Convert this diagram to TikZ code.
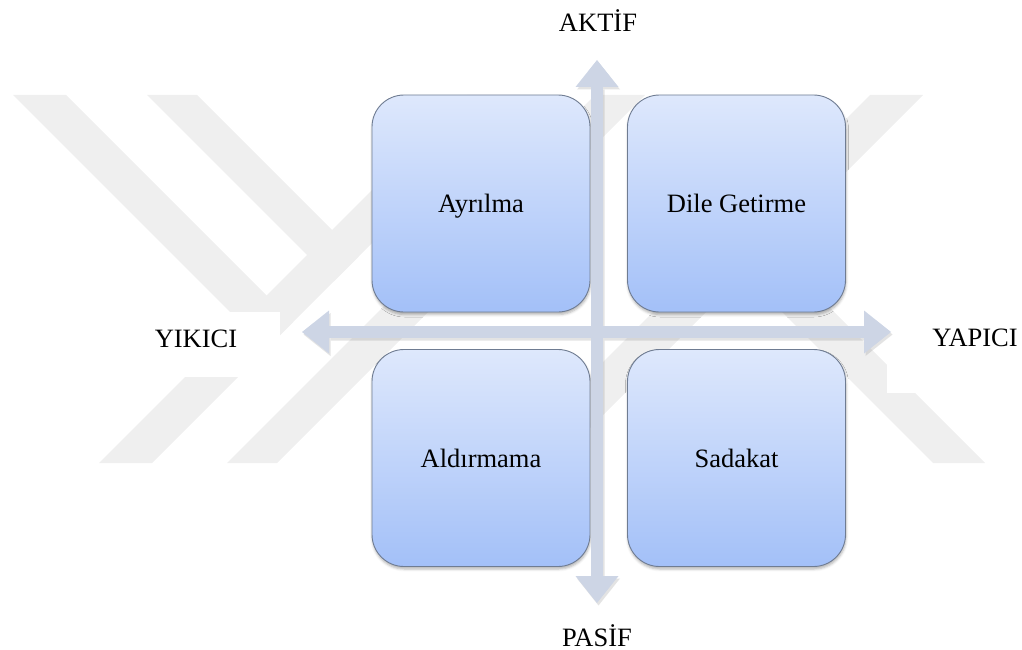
\documentclass[tikz,border=0pt]{standalone}
\usepackage{fontspec}
\setmainfont{Liberation Serif}
\usetikzlibrary{arrows.meta,shadows.blur}
\definecolor{boxtop}{HTML}{DEE8FC}
\definecolor{boxbot}{HTML}{A3C0F8}
\definecolor{boxline}{HTML}{6F7C92}
\definecolor{axisfill}{HTML}{CDD5E5}
\definecolor{wmgray}{HTML}{EFEFEF}
\begin{document}
\begin{tikzpicture}[x=1pt,y=-1pt,
  quad/.style={draw=boxline, line width=0.9pt, rounded corners=32pt,
    minimum width=218pt, minimum height=217pt, inner sep=0pt,
    top color=boxtop, bottom color=boxbot,
    blur shadow={shadow xshift=0.5pt, shadow yshift=-2.5pt,
      shadow blur radius=2.5pt, shadow opacity=30},
    font=\fontsize{26.5}{30}\selectfont, text depth=0pt},
  pole/.style={font=\fontsize{26.5}{30}\selectfont, inner sep=0pt, anchor=base},
  axis/.style={line width=12pt, draw=#1,
    {Triangle[width=43pt,length=27pt,line width=0pt]}-{Triangle[width=43pt,length=27pt,line width=0pt]}},
  band/.style={fill=wmgray}]
\useasboundingbox (0,0) rectangle (1022,650);

% faint background emblem made of diagonal bands
\begin{scope}
  \clip (0,95) rectangle (1022,463);
  \fill[band] (467,95) -- (520,95) -- (152,463) -- (99,463) -- cycle;
  \fill[band] (13,95) -- (66,95) -- (293,322) -- (266.5,348.5) -- cycle;
  \fill[band] (147,95) -- (197,95) -- (358.5,256.5) -- (333.5,281.5) -- cycle;
  \fill[band] (595,95) -- (645,95) -- (277,463) -- (227,463) -- cycle;
  \fill[band] (870,95) -- (923,95) -- (555,463) -- (502,463) -- cycle;
  \fill[band] (717.5,247.5) -- (770,248) -- (985,463) -- (933,463) -- cycle;
\end{scope}
% white patches behind the side labels
\fill[white] (153,312) rectangle (280,377);
\fill[white] (887,310) rectangle (1022,393);

% the four quadrants
\node[quad] (ayr) at (481,203.5) {Ayrılma};
\node[quad] (dil) at (736.5,203.5) {Dile Getirme};
\node[quad] (ald) at (481,458) {Aldırmama};
\node[quad] (sad) at (736.5,458) {Sadakat};

% axis end points
\coordinate (vtop) at (597,60);
\coordinate (vbot) at (597,603);
\coordinate (hlft) at (302,332);
\coordinate (hrgt) at (891,332);

% soft shadow of the two axes
\begin{scope}[transparency group, opacity=0.22]
  \draw[axis=gray] ([shift={(1.5,2.5)}]vtop) -- ([shift={(1.5,2.5)}]vbot);
  \draw[axis=gray] ([shift={(1.5,2.5)}]hlft) -- ([shift={(1.5,2.5)}]hrgt);
\end{scope}
\draw[axis=axisfill] (vtop) -- (vbot);
\draw[axis=axisfill] (hlft) -- (hrgt);

% pole labels
\node[pole] (akt) at (598,32) {AKTİF};
\node[pole] (pas) at (597,646) {PASİF};
\node[pole] (yik) at (196,347) {YIKICI};
\node[pole] (yap) at (975,346) {YAPICI};
\end{tikzpicture}
\end{document}
